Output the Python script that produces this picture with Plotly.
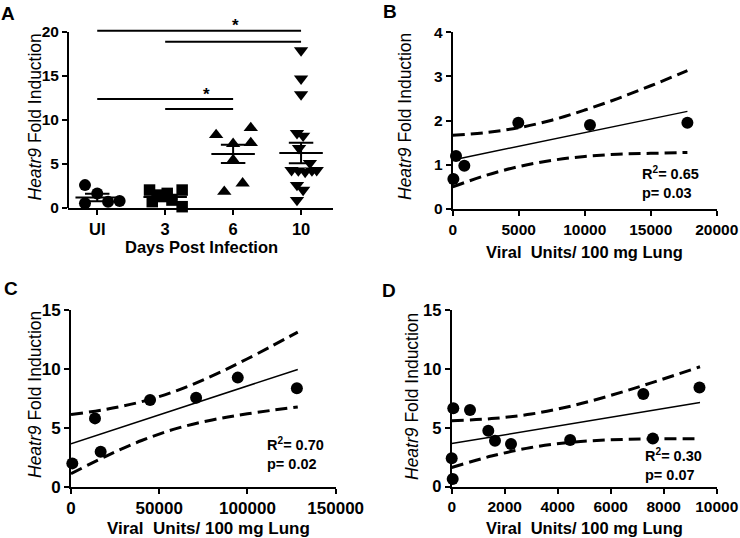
import plotly.graph_objects as go

# ---------------- Panel A data ----------------
groups = ["UI", "3", "6", "10"]
ui_vals = [2.6, 1.66, 0.53, 0.72, 0.8]
ui_off = [-0.18, 0.0, -0.18, 0.16, 0.33]
d3_vals = [2.04, 0.72, 1.3, 1.66, 0.9, 2.04, 0.15, 1.47]
d3_off = [-0.23, -0.19, -0.04, 0.03, 0.10, 0.25, 0.25, -0.12]
d6_vals = [8.3, 7.3, 9.1, 7.4, 5.45, 1.85, 2.8]
d6_off = [-0.25, 0.0, 0.26, 0.26, 0.0, -0.13, 0.14]
d10_vals = [17.9, 14.7, 12.9, 8.5, 8.2, 6.8, 5.1, 4.3, 4.25, 4.1, 4.25, 4.3, 2.6, 2.05, 0.9]
d10_off = [0.0, 0.0, 0.0, -0.06, 0.03, -0.03, 0.13, -0.14, -0.04, 0.06, 0.16, 0.23, -0.06, 0.03, -0.06]
group_mean = [1.2, 1.25, 6.15, 6.25]
group_sem = [0.42, 0.25, 1.05, 1.17]
sig_pairs = [(0, 3, 20.15), (1, 3, 18.9), (0, 2, 12.39), (1, 2, 11.25)]
stars = [(2.03, 20.7), (1.61, 12.95)]

# ---------------- Panel B data ----------------
b_x = [50, 250, 880, 4970, 10400, 17780]
b_y = [0.68, 1.2, 0.98, 1.95, 1.9, 1.95]
b_fit_x = [0, 17780]
b_fit_y = [1.11, 2.21]
b_band_x = [0, 2500, 5000, 7500, 10000, 12500, 15000, 17780]
b_band_hi = [1.67, 1.73, 1.84, 2.01, 2.24, 2.50, 2.79, 3.13]
b_band_lo = [0.50, 0.76, 0.96, 1.10, 1.19, 1.24, 1.26, 1.28]
b_stat = ["0.65", "0.03"]

# ---------------- Panel C data ----------------
c_x = [750, 13600, 16800, 44800, 70900, 94500, 128000]
c_y = [1.98, 5.8, 2.97, 7.36, 7.56, 9.26, 8.35]
c_fit_x = [0, 128500]
c_fit_y = [3.65, 9.95]
c_band_x = [0, 20000, 40000, 60000, 80000, 100000, 128500]
c_band_hi = [6.12, 6.57, 7.22, 8.16, 9.41, 10.86, 13.12]
c_band_lo = [1.10, 2.60, 3.92, 4.95, 5.67, 6.19, 6.77]
c_stat = ["0.70", "0.02"]

# ---------------- Panel D data ----------------
d_x = [60, 0, 38, 690, 1381, 1634, 2238, 4470, 7230, 7590, 9350]
d_y = [6.66, 2.41, 0.65, 6.51, 4.75, 3.9, 3.62, 3.96, 7.87, 4.1, 8.43]
d_fit_x = [0, 9370]
d_fit_y = [3.66, 7.14]
d_band_x = [0, 1500, 3000, 4500, 6000, 7500, 9370]
d_band_hi = [5.60, 5.78, 6.17, 6.84, 7.75, 8.79, 10.18]
d_band_lo = [1.63, 2.60, 3.33, 3.77, 3.98, 4.06, 4.08]
d_stat = ["0.30", "0.07"]

FONT = "Liberation Sans, Arial, sans-serif"
BLACK = "#000000"

fig = go.Figure()

# ---- Panel A scatter ----
sets = [(ui_vals, ui_off, "circle", 12), (d3_vals, d3_off, "square", 11.5),
        (d6_vals, d6_off, "triangle-up", 12.5), (d10_vals, d10_off, "triangle-down", 12.5)]
for gi, (vals, offs, sym, sz) in enumerate(sets):
    fig.add_trace(go.Scatter(
        x=[gi + o for o in offs], y=vals, mode="markers", xaxis="x", yaxis="y",
        marker=dict(symbol=sym, size=sz, color=BLACK, line=dict(width=0)),
        cliponaxis=False, hoverinfo="skip"))

# mean and SEM bars
for gi, (m, s) in enumerate(zip(group_mean, group_sem)):
    xs = [gi - 0.32, gi + 0.32, None, gi - 0.18, gi + 0.18, None,
          gi - 0.18, gi + 0.18, None, gi, gi]
    ys = [m, m, None, m + s, m + s, None, m - s, m - s, None, m - s, m + s]
    fig.add_trace(go.Scatter(x=xs, y=ys, mode="lines", xaxis="x", yaxis="y",
                             line=dict(color=BLACK, width=2), hoverinfo="skip"))

shapes = []
for a, b, yv in sig_pairs:
    shapes.append(dict(type="line", xref="x", yref="y", x0=a, x1=b, y0=yv, y1=yv,
                       line=dict(color=BLACK, width=2)))
# y axis line of panel A (axis range extends above 20 for the brackets)
shapes.append(dict(type="line", xref="x domain", yref="y", x0=0, x1=0, y0=0, y1=20,
                   line=dict(color=BLACK, width=2)))

annotations = []
for sx, sy in stars:
    annotations.append(dict(x=sx, y=sy, xref="x", yref="y", text="<b>*</b>",
                            showarrow=False, font=dict(family=FONT, size=17, color=BLACK)))


def regression_panel(xa, ya, px, py, fx, fy, bx, bhi, blo):
    fig.add_trace(go.Scatter(x=bx, y=bhi, mode="lines", xaxis=xa, yaxis=ya,
                             line=dict(color=BLACK, width=3, dash="12px,6px", shape="spline"),
                             hoverinfo="skip"))
    fig.add_trace(go.Scatter(x=bx, y=blo, mode="lines", xaxis=xa, yaxis=ya,
                             line=dict(color=BLACK, width=3, dash="12px,6px", shape="spline"),
                             hoverinfo="skip"))
    fig.add_trace(go.Scatter(x=fx, y=fy, mode="lines", xaxis=xa, yaxis=ya,
                             line=dict(color=BLACK, width=1.5), hoverinfo="skip"))
    fig.add_trace(go.Scatter(x=px, y=py, mode="markers", xaxis=xa, yaxis=ya,
                             marker=dict(symbol="circle", size=12, color=BLACK),
                             cliponaxis=False, hoverinfo="skip"))


regression_panel("x2", "y2", b_x, b_y, b_fit_x, b_fit_y, b_band_x, b_band_hi, b_band_lo)
regression_panel("x3", "y3", c_x, c_y, c_fit_x, c_fit_y, c_band_x, c_band_hi, c_band_lo)
regression_panel("x4", "y4", d_x, d_y, d_fit_x, d_fit_y, d_band_x, d_band_hi, d_band_lo)


def tf(size):
    return dict(family=FONT, size=size, color=BLACK, weight="bold")


axis_common = dict(showgrid=False, zeroline=False, ticks="outside", ticklen=5, tickwidth=2,
                   tickcolor=BLACK, linecolor=BLACK, linewidth=2,
                   fixedrange=True, automargin=False)


def px2dom_x(a, b):
    return [a / 740, b / 740]


def px2dom_y(top, bottom):
    return [(538 - bottom) / 538, (538 - top) / 538]


layout = dict(
    template="none",
    width=740, height=538, margin=dict(l=0, r=0, t=0, b=0, pad=0, autoexpand=False),
    paper_bgcolor="white", plot_bgcolor="white", showlegend=False,
    font=dict(family=FONT, color=BLACK),
    xaxis=dict(axis_common, domain=px2dom_x(68, 333), range=[-0.43, 3.47],
               tickvals=[0, 1, 2, 3], ticktext=groups, showline=True, anchor="y",
               tickfont=tf(16.5)),
    yaxis=dict(axis_common, domain=px2dom_y(14.4, 208), range=[0, 22],
               tickvals=[0, 5, 10, 15, 20], showline=False, anchor="x", tickfont=tf(15.5)),
    xaxis2=dict(axis_common, domain=px2dom_x(452.7, 716.7), range=[0, 20000], dtick=5000,
                tickformat="d", showline=True, anchor="y2", tickfont=tf(15.5)),
    yaxis2=dict(axis_common, domain=px2dom_y(32.3, 209), range=[0, 4], dtick=1,
                showline=True, anchor="x2", tickfont=tf(15.5)),
    xaxis3=dict(axis_common, domain=px2dom_x(71, 335.7), range=[0, 150000], dtick=50000,
                tickformat="d", showline=True, anchor="y3", tickfont=tf(17)),
    yaxis3=dict(axis_common, domain=px2dom_y(310, 486.7), range=[0, 15], dtick=5,
                showline=True, anchor="x3", tickfont=tf(17)),
    xaxis4=dict(axis_common, domain=px2dom_x(451.7, 716.7), range=[0, 10000], dtick=2000,
                tickformat="d", showline=True, anchor="y4", tickfont=tf(15.5)),
    yaxis4=dict(axis_common, domain=px2dom_y(310, 486.7), range=[0, 15], dtick=5,
                showline=True, anchor="x4", tickfont=tf(16.5)),
)

ytitle = "<i>Heatr9</i> Fold Induction"
xtitle_v = "Viral\u00a0 Units/ 100 mg Lung"


def pann(xp, yp, text, size, bold=False, angle=0, align="center", xanchor="center"):
    t = f"<b>{text}</b>" if bold else text
    annotations.append(dict(x=xp / 740, y=(538 - yp) / 538, xref="paper", yref="paper",
                            text=t, showarrow=False, textangle=angle, align=align,
                            xanchor=xanchor, yanchor="middle",
                            font=dict(family=FONT, size=size, color=BLACK)))


# panel letters
pann(8, 14, "A", 19, bold=True)
pann(390, 11, "B", 19, bold=True)
pann(11, 288, "C", 19, bold=True)
pann(389, 290, "D", 19, bold=True)
# y titles
pann(35, 117.5, ytitle, 17.5, angle=-90)
pann(405, 116, ytitle, 17.5, angle=-90)
pann(35, 395, ytitle, 17.5, angle=-90)
pann(412, 397, ytitle, 17.5, angle=-90)
# x titles
pann(201, 247, "Days Post Infection", 16.5, bold=True)
pann(584, 252, xtitle_v, 16.5, bold=True)
pann(208, 528, xtitle_v, 17, bold=True)
pann(584, 528, xtitle_v, 16.5, bold=True)
# stats
for (xp, yp), st in [((640, 182.5), b_stat), ((265, 453), c_stat), ((643, 464), d_stat)]:
    pann(xp, yp, f"R<sup>2</sup>= {st[0]}<br>p= {st[1]}", 14.5, bold=True,
         align="left", xanchor="left")

layout["shapes"] = shapes
layout["annotations"] = annotations
fig.update_layout(**layout)

fig.write_html("out.html", config={"displayModeBar": False},
               post_script="document.body.style.margin='0';document.body.style.padding='0';")
